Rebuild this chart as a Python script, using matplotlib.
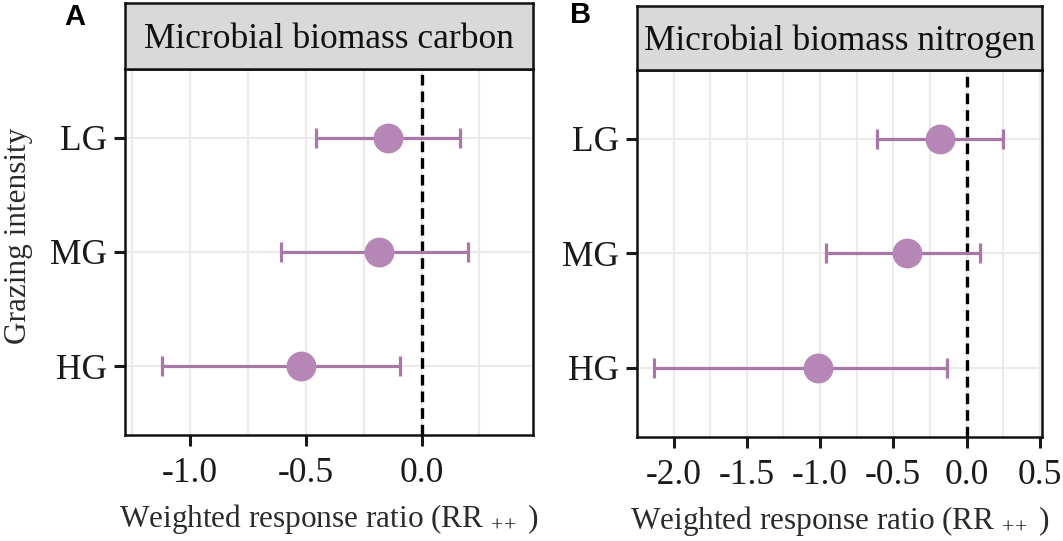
import numpy as np
import matplotlib
matplotlib.use("Agg")
import matplotlib.pyplot as plt

plt.rcParams["mathtext.fontset"] = "custom"
plt.rcParams["mathtext.rm"] = "Liberation Serif"
plt.rcParams["mathtext.it"] = "Liberation Serif:italic"

# grazing intensity levels, top to bottom
groups = ["LG", "MG", "HG"]

# panel A: microbial biomass carbon
mbc_mean = [-0.146, -0.186, -0.522]
mbc_lo = [-0.456, -0.606, -1.120]
mbc_hi = [0.164, 0.201, -0.092]

# panel B: microbial biomass nitrogen
mbn_mean = [-0.178, -0.409, -1.017]
mbn_lo = [-0.608, -0.960, -2.132]
mbn_hi = [0.247, 0.095, -0.134]

a_ticks = [-1.0, -0.5, 0.0]
a_minor = [-1.25, -0.75, -0.25, 0.25]
b_ticks = [-2.0, -1.5, -1.0, -0.5, 0.0, 0.5]
b_minor = [-2.25, -1.75, -1.25, -0.75, -0.25, 0.25]

SERIF = "Liberation Serif"
PT_COL = "#b687b6"
BAR_COL = "#a877a8"


def panel(fig, rect, strip_top, title, mean, lo, hi, xlim, ticks, minor, letter, letter_xy):
    ax = fig.add_axes(rect)
    y = np.arange(len(groups))[::-1] + 1.0
    mean = np.asarray(mean)
    err = np.vstack([mean - np.asarray(lo), np.asarray(hi) - mean])

    for t in ticks + minor:
        ax.axvline(t, color="#ebebeb", lw=1.6, zorder=0)
    for yy in y:
        ax.axhline(yy, color="#ebebeb", lw=1.6, zorder=0)

    ax.axvline(0, color="black", lw=2.4, ls=(0, (3.2, 1.8)), zorder=2)
    ax.errorbar(mean, y, xerr=err, fmt="none", ecolor=BAR_COL, elinewidth=2.3,
                capsize=7.5, capthick=2.3, zorder=3)
    ax.plot(mean, y, "o", ms=21.5, color=PT_COL, mec="none", zorder=4)

    ax.set_xlim(*xlim)
    ax.set_ylim(0.4, 3.6)
    ax.set_xticks(ticks)
    ax.set_xticklabels([f"{t:.1f}" for t in ticks], fontfamily=SERIF, fontsize=25.5, color="#1a1a1a")
    ax.set_yticks(y)
    ax.set_yticklabels(groups, fontfamily=SERIF, fontsize=25.5, color="#1a1a1a")
    ax.tick_params(axis="x", length=8, width=2.2, color="#1a1a1a", pad=8)
    ax.tick_params(axis="y", length=8, width=2.2, color="#1a1a1a", pad=5)
    for s in ax.spines.values():
        s.set_linewidth(1.8)
        s.set_color("#111111")

    ax.set_xlabel(r"Weighted response ratio (RR $_{+\!+}$ )", fontfamily=SERIF, fontsize=22.5,
                  color="#2a2a2a", labelpad=9)

    # facet strip
    l, b, w, h = rect
    sax = fig.add_axes([l, b + h, w, strip_top - (b + h)])
    sax.set_facecolor("#d9d9d9")
    sax.set_xticks([])
    sax.set_yticks([])
    for s in sax.spines.values():
        s.set_linewidth(1.8)
        s.set_color("#111111")
    sax.text(0.5, 0.45, title, ha="center", va="center", fontfamily=SERIF, fontsize=25.5,
             color="#111111", transform=sax.transAxes)

    fig.text(letter_xy[0], letter_xy[1], letter, ha="center", va="center",
             fontfamily="Liberation Sans", fontweight="bold", fontsize=21)
    return ax


fig = plt.figure(figsize=(10.63, 5.41), dpi=100)

ax_a = panel(fig, [0.1179, 0.1965, 0.3832, 0.6760], 0.9939, "Microbial biomass carbon",
             mbc_mean, mbc_lo, mbc_hi, (-1.28, 0.48), a_ticks, a_minor, "A", (0.0708, 0.969))
ax_b = panel(fig, [0.5992, 0.1928, 0.3810, 0.6778], 0.9889, "Microbial biomass nitrogen",
             mbn_mean, mbn_lo, mbn_hi, (-2.25, 0.515), b_ticks, b_minor, "B", (0.5466, 0.972))

fig.text(0.017, 0.564, "Grazing intensity", rotation=90, ha="center", va="center",
         fontfamily=SERIF, fontsize=22.5, color="#2a2a2a")

fig.savefig("out.png", dpi=100)
